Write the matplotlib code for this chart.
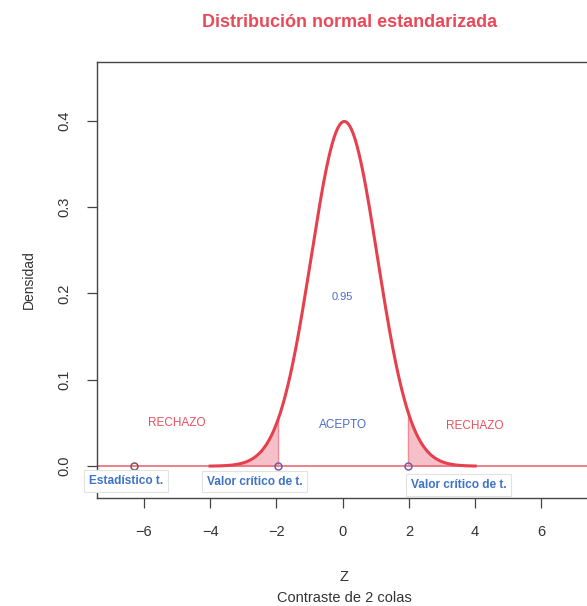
import numpy as np
import matplotlib
matplotlib.use("Agg")
import matplotlib.pyplot as plt

# ---- data ----
mu, sigma = 0.05, 1.0          # standard normal (slight offset as seen in picture)
curve_range = (-4.0, 4.0)
crit_values = [-1.96, 1.96]
t_stat = -6.3
alpha_conf = "0.95"
region_labels = ["RECHAZO", "ACEPTO", "RECHAZO"]
region_x = [-5.0, 0.0, 4.0]
region_y = [0.050, 0.048, 0.046]
region_colors = ["#e8505c", "#4a6cc8", "#e8505c"]
box_labels = ["Estadístico t.", "Valor crítico de t.", "Valor crítico de t."]
box_x = [-6.55, -2.65, 3.5]
box_y = [-0.017, -0.018, -0.022]
xticks = [-6, -4, -2, 0, 2, 4, 6]
yticks = [0.0, 0.1, 0.2, 0.3, 0.4]

plt.rcParams['font.family'] = ['Liberation Sans', 'DejaVu Sans']

fig = plt.figure(figsize=(5.87, 6.06), dpi=100)
ax = fig.add_axes([0.165, 0.178, 0.842, 0.720])

x = np.linspace(curve_range[0], curve_range[1], 801)
y = np.exp(-0.5 * ((x - mu) / sigma) ** 2) / (sigma * np.sqrt(2 * np.pi))

red = "#e6404e"
pink = "#f5b5bf"

# tails shading
left = x <= crit_values[0]
right = x >= crit_values[1]
ax.fill_between(x[left], 0, y[left], color=pink, alpha=0.85, lw=0)
ax.fill_between(x[right], 0, y[right], color=pink, alpha=0.85, lw=0)
for c in crit_values:
    yc = np.exp(-0.5 * ((c - mu) / sigma) ** 2) / (sigma * np.sqrt(2 * np.pi))
    ax.plot([c, c], [0, yc], color="#f08a98", lw=1)

# baseline
ax.axhline(0, color="#ee6a78", lw=1.2, zorder=1)

# density curve
ax.plot(x, y, color=red, lw=2.2, zorder=3)

# points
ax.plot(crit_values, [0, 0], 'o', mfc='none', mec="#6a5fa8", ms=5, mew=1.1, zorder=4)
ax.plot([t_stat], [0], 'o', mfc='none', mec="#7a5a5a", ms=5, mew=1.1, zorder=4)

# texts
for lab, xx, yy, col in zip(region_labels, region_x, region_y, region_colors):
    ax.text(xx, yy, lab, color=col, fontsize=8.5, ha='center', va='center')
ax.text(0, 0.196, alpha_conf, color="#4a6cc8", fontsize=8, ha='center', va='center')

for lab, xx, yy in zip(box_labels, box_x, box_y):
    ax.text(xx, yy, lab, color="#3f73c8", fontsize=8.6, fontweight='bold',
            ha='center', va='center', clip_on=False, zorder=5,
            bbox=dict(boxstyle='square,pad=0.4', fc='white', ec='#e2e2e2', lw=0.8))

ax.set_xlim(-7.42, 7.5)
ax.set_ylim(-0.037, 0.468)
ax.set_xticks(xticks)
ax.set_xticklabels([f"{t}".replace('-', '\u2212') for t in xticks])
ax.set_yticks(yticks)
ax.set_yticklabels([f"{t:.1f}" for t in yticks], rotation=90, va='center')
ax.tick_params(direction='out', length=7, width=0.9, color='#444444',
               labelsize=10.5, labelcolor='#333333')
ax.tick_params(axis='x', pad=12)
ax.tick_params(axis='y', pad=11)
for s in ax.spines.values():
    s.set_color('#444444')
    s.set_linewidth(1.0)

ax.set_ylabel("Densidad", fontsize=10, color='#333333', labelpad=16)
fig.text(0.5862, 0.048, "Z", ha='center', va='center', fontsize=10.5, color='#333333')
fig.text(0.5862, 0.014, "Contraste de 2 colas", ha='center', va='center', fontsize=10.5, color='#333333')
fig.text(0.596, 0.963, "Distribución normal estandarizada", ha='center', va='center',
         fontsize=13, fontweight='bold', color="#e84a5a")

fig.savefig("out.png", dpi=100)
